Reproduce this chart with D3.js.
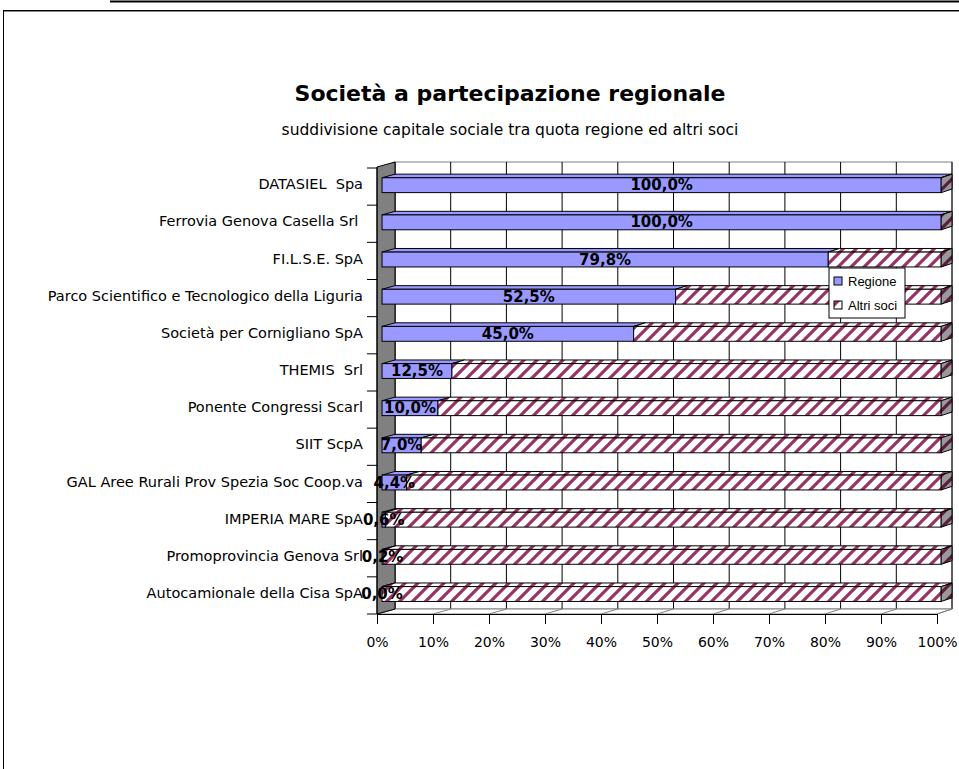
<!DOCTYPE html>
<html>
<head>
<meta charset="utf-8">
<script src="https://cdn.jsdelivr.net/npm/d3@7"></script>
<style>
  body { margin: 0; background: #fff; }
  text { white-space: pre; }
</style>
</head>
<body>
<div id="chart"></div>
<script>
const categories = [
    "DATASIEL  Spa",
    "Ferrovia Genova Casella Srl ",
    "FI.L.S.E. SpA",
    "Parco Scientifico e Tecnologico della Liguria",
    "Società per Cornigliano SpA",
    "THEMIS  Srl",
    "Ponente Congressi Scarl",
    "SIIT ScpA",
    "GAL Aree Rurali Prov Spezia Soc Coop.va",
    "IMPERIA MARE SpA",
    "Promoprovincia Genova Srl",
    "Autocamionale della Cisa SpA"
];
const regione = [100, 100, 79.8, 52.5, 45.0, 12.5, 10.0, 7.0, 4.4, 0.6, 0.2, 0.0];
const altriSoci = [0, 0, 20.2, 47.5, 55.0, 87.5, 90.0, 93.0, 95.6, 99.4, 99.8, 100];
const seriesNames = ["Regione", "Altri soci"];
const xTicks = [0, 10, 20, 30, 40, 50, 60, 70, 80, 90, 100];

const title = "Società a partecipazione regionale";
const subtitle = "suddivisione capitale sociale tra quota regione ed altri soci";

const width = 959, height = 769;
const font = "'Comic Sans MS', 'DejaVu Sans', sans-serif";

const svg = d3.select("#chart")
    .append("svg")
    .attr("width", width)
    .attr("height", height)
    .style("display", "block");

const defs = svg.append("defs");
const hatch = defs.append("pattern")
    .attr("id", "hatch")
    .attr("patternUnits", "userSpaceOnUse")
    .attr("width", 13)
    .attr("height", 13);
hatch.append("rect").attr("width", 13).attr("height", 13).attr("fill", "#fff");
hatch.append("path")
    .attr("d", "M-3,3L3,-3M0,13L13,0M10,16L16,10")
    .attr("stroke", "#993366")
    .attr("stroke-width", 3.2);

// page frame
svg.append("line")
    .attr("x1", 110).attr("x2", width).attr("y1", 1.5).attr("y2", 1.5)
    .attr("stroke", "#000").attr("stroke-width", 2);
svg.append("rect")
    .attr("x", 3.5).attr("y", 10.5).attr("width", 1000).attr("height", 1000)
    .attr("fill", "none").attr("stroke", "#000");
svg.append("line")
    .attr("x1", 4).attr("x2", width).attr("y1", 11.5).attr("y2", 11.5)
    .attr("stroke", "#888");

// titles
svg.append("text")
    .attr("x", 510).attr("y", 93)
    .attr("text-anchor", "middle").attr("dominant-baseline", "central")
    .attr("font-family", font).attr("font-size", 22).attr("font-weight", "bold")
    .text(title);
svg.append("text")
    .attr("x", 510).attr("y", 130)
    .attr("text-anchor", "middle").attr("dominant-baseline", "central")
    .attr("font-family", font).attr("font-size", 15.5)
    .text(subtitle);

// scales: front plane and back plane of the 3D box
const xFront = d3.scaleLinear().domain([0, 100]).range([377, 937]);
const xBack = d3.scaleLinear().domain([0, 100]).range([395, 952]);
const depthY = 5;
const px = (v, t) => xFront(v) + t * (xBack(v) - xFront(v));

const y = d3.scaleBand()
    .domain(categories)
    .range([168, 614])
    .paddingInner(0.6)
    .paddingOuter(0.3);

const wallTop = 167, wallBottom = 614;

// back wall
svg.append("rect")
    .attr("x", xBack(0)).attr("y", wallTop - depthY)
    .attr("width", xBack(100) - xBack(0)).attr("height", wallBottom - wallTop)
    .attr("fill", "#fff").attr("stroke", "#808080");
svg.append("g")
    .selectAll("line")
    .data(xTicks)
    .join("line")
    .attr("x1", d => xBack(d)).attr("x2", d => xBack(d))
    .attr("y1", wallTop - depthY).attr("y2", wallBottom - depthY)
    .attr("stroke", "#000");

// floor
svg.append("path")
    .attr("d", d3.line()([[xFront(0), wallBottom], [xFront(100), wallBottom],
        [xBack(100), wallBottom - depthY], [xBack(0), wallBottom - depthY]]) + "Z")
    .attr("fill", "#fff").attr("stroke", "#808080");
svg.append("g")
    .selectAll("line")
    .data(xTicks)
    .join("line")
    .attr("x1", d => xFront(d)).attr("x2", d => xBack(d))
    .attr("y1", wallBottom).attr("y2", wallBottom - depthY)
    .attr("stroke", "#808080");

// left wall
svg.append("path")
    .attr("d", d3.line()([[xFront(0), wallTop], [xBack(0), wallTop - depthY],
        [xBack(0), wallBottom - depthY], [xFront(0), wallBottom]]) + "Z")
    .attr("fill", "#808080").attr("stroke", "#000");

// bars
const rows = categories.map((c, i) => ({cat: c, "Regione": regione[i], "Altri soci": altriSoci[i]}));
const stacked = d3.stack().keys(seriesNames)(rows);
const fills = {"Regione": "#9999ff", "Altri soci": "url(#hatch)"};
const tf = 0.28, tb = 1;
const bw = y.bandwidth();

const bars = svg.append("g");
stacked.forEach(s => {
    s.forEach(d => {
        const v0 = d[0], v1 = d[1];
        const yt = y(d.data.cat) - depthY * tf;
        const yk = y(d.data.cat) - depthY * tb;
        bars.append("path")
            .attr("d", d3.line()([[px(v0, tf), yt], [px(v1, tf), yt], [px(v1, tb), yk], [px(v0, tb), yk]]) + "Z")
            .attr("fill", fills[s.key]).attr("stroke", "#000").attr("stroke-width", 1);
        bars.append("rect")
            .attr("x", px(v0, tf)).attr("y", yt)
            .attr("width", px(v1, tf) - px(v0, tf)).attr("height", bw)
            .attr("fill", fills[s.key]).attr("stroke", "#000").attr("stroke-width", 1);
    });
});
// right end caps
rows.forEach(r => {
    const yt = y(r.cat) - depthY * tf;
    const yk = y(r.cat) - depthY * tb;
    const pts = [[px(100, tf), yt], [px(100, tb), yk], [px(100, tb), yk + bw], [px(100, tf), yt + bw]];
    bars.append("path").attr("d", d3.line()(pts) + "Z").attr("fill", "url(#hatch)");
    bars.append("path").attr("d", d3.line()(pts) + "Z")
        .attr("fill", "#000").attr("fill-opacity", 0.4).attr("stroke", "#000");
});

// category axis
const step = y.step();
svg.append("g")
    .selectAll("line")
    .data(d3.range(categories.length + 1))
    .join("line")
    .attr("x1", xFront(0) - 10).attr("x2", xFront(0))
    .attr("y1", i => 168 + i * step).attr("y2", i => 168 + i * step)
    .attr("stroke", "#000");
svg.append("line")
    .attr("x1", xFront(0)).attr("x2", xFront(0)).attr("y1", wallTop).attr("y2", wallBottom)
    .attr("stroke", "#000");

const yAxis = svg.append("g")
    .attr("transform", `translate(${xFront(0)}, -2)`)
    .call(d3.axisLeft(y).tickSize(0).tickPadding(14));
yAxis.select(".domain").remove();
yAxis.selectAll("text").attr("font-family", font).attr("font-size", 14.5).attr("fill", "#000");

// value axis
const xAxis = svg.append("g")
    .attr("transform", `translate(0, ${wallBottom})`)
    .call(d3.axisBottom(xFront).tickValues(xTicks).tickFormat(d => d + "%")
        .tickSize(10).tickSizeOuter(0).tickPadding(13));
xAxis.selectAll("text").attr("font-family", font).attr("font-size", 14).attr("fill", "#000");
xAxis.selectAll("line, path").attr("stroke", "#000");

// value labels
const it = d3.formatLocale({decimal: ",", thousands: ".", grouping: [3], currency: ["€", ""]});
const fmt = it.format(".1f");
svg.append("g")
    .selectAll("text")
    .data(stacked[0])
    .join("text")
    .attr("x", d => (px(d[0], tf) + px(d[1], tf)) / 2)
    .attr("y", d => y(d.data.cat) - depthY * tf + bw / 2)
    .attr("text-anchor", "middle").attr("dominant-baseline", "central")
    .attr("font-family", font).attr("font-size", 15).attr("font-weight", "bold")
    .text(d => fmt(d.data["Regione"]) + "%");

// legend
const legend = svg.append("g").attr("transform", "translate(829, 268)");
legend.append("rect").attr("width", 76).attr("height", 50)
    .attr("fill", "#fff").attr("stroke", "#000");
const items = legend.selectAll("g.item")
    .data(seriesNames)
    .join("g")
    .attr("class", "item")
    .attr("transform", (d, i) => `translate(5, ${13 + i * 24})`);
items.append("rect")
    .attr("x", 0).attr("y", -4).attr("width", 8).attr("height", 8)
    .attr("fill", d => fills[d]).attr("stroke", "#000");
items.append("text")
    .attr("x", 14).attr("y", 0).attr("dominant-baseline", "central")
    .attr("font-family", "'Liberation Sans', Arial, sans-serif").attr("font-size", 13)
    .text(d => d);
</script>
</body>
</html>
